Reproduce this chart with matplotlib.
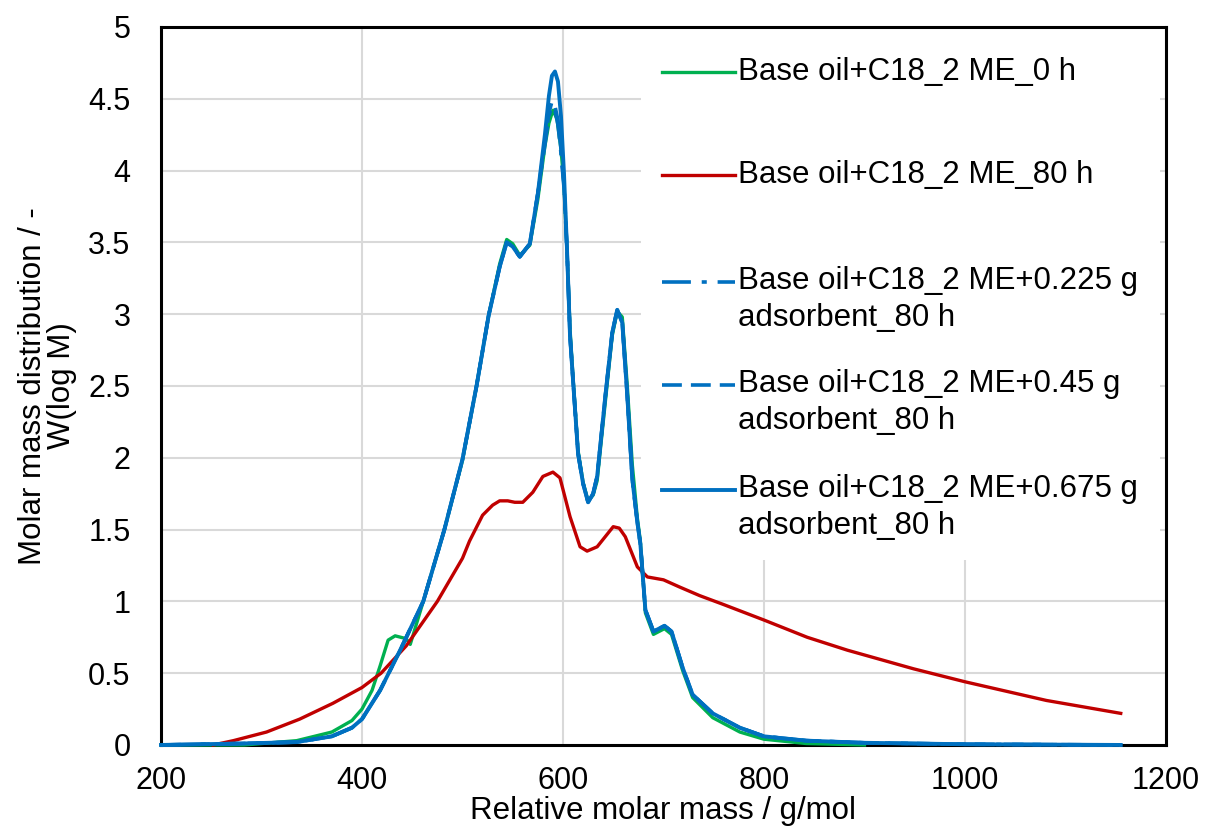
import numpy as np
import matplotlib
matplotlib.use("Agg")
import matplotlib.pyplot as plt
from matplotlib.lines import Line2D
from matplotlib.patches import Rectangle
from matplotlib.ticker import FuncFormatter

plt.rcParams['font.family'] = ['Liberation Sans', 'DejaVu Sans']

# ---- data ----
labels = [
    "Base oil+C18_2 ME_0 h",
    "Base oil+C18_2 ME_80 h",
    "Base oil+C18_2 ME+0.225 g\nadsorbent_80 h",
    "Base oil+C18_2 ME+0.45 g\nadsorbent_80 h",
    "Base oil+C18_2 ME+0.675 g\nadsorbent_80 h",
]

green_x = [200, 283, 335, 370, 390, 400, 410, 418, 426, 433, 444, 448, 461, 482, 500,
           514, 526, 537, 544, 550, 557, 567, 575, 582, 586, 590, 594, 598, 601,
           604, 607, 610, 615, 620, 625, 630, 634, 642, 649, 654, 659, 664, 669,
           674, 677, 682, 690, 701, 708, 719, 729, 749, 776, 800, 842, 900]
green_y = [0.0, 0.0, 0.03, 0.09, 0.17, 0.25, 0.38, 0.55, 0.73, 0.76, 0.74, 0.70, 1.0, 1.5, 1.98,
           2.5, 2.99, 3.35, 3.52, 3.49, 3.41, 3.48, 3.80, 4.17, 4.33, 4.42, 4.36, 4.15, 3.9,
           3.45, 2.9, 2.56, 2.05, 1.83, 1.70, 1.74, 1.84, 2.38, 2.85, 3.02, 2.98, 2.5, 1.95,
           1.58, 1.42, 0.92, 0.77, 0.81, 0.77, 0.52, 0.33, 0.19, 0.09, 0.04, 0.01, 0.0]

red_x = [252, 272, 305, 338, 371, 400, 419, 444, 475, 500, 507, 520, 530, 537, 545, 552,
         560, 570, 580, 590, 597, 607, 617, 624, 634, 642, 650, 656, 662, 674, 684, 700,
         716, 736, 759, 800, 843, 883, 949, 1000, 1081, 1155]
red_y = [0.0, 0.03, 0.09, 0.18, 0.29, 0.40, 0.50, 0.69, 1.0, 1.30, 1.42, 1.60, 1.67, 1.70, 1.70,
         1.69, 1.69, 1.76, 1.87, 1.90, 1.86, 1.59, 1.38, 1.35, 1.38, 1.45, 1.52, 1.51, 1.45,
         1.24, 1.17, 1.15, 1.10, 1.04, 0.98, 0.87, 0.75, 0.66, 0.53, 0.44, 0.31, 0.22]

blue_x = [200, 280, 335, 370, 390, 400, 418, 438, 461, 482, 500, 514, 526, 537, 544, 550,
          557, 567, 575, 582, 586, 589, 592, 595, 598, 601, 604, 607, 610, 615, 620,
          625, 630, 634, 642, 649, 654, 659, 664, 669, 674, 677, 682, 690, 701, 708,
          719, 729, 749, 776, 800, 842, 900, 1000, 1155]
blue_675 = [0.0, 0.01, 0.02, 0.06, 0.12, 0.18, 0.38, 0.66, 1.0, 1.5, 1.99, 2.5, 2.99, 3.33, 3.50, 3.47,
            3.40, 3.49, 3.84, 4.25, 4.52, 4.66, 4.69, 4.62, 4.38, 3.98, 3.45, 2.85, 2.54, 2.03, 1.82,
            1.69, 1.75, 1.87, 2.42, 2.87, 3.03, 2.94, 2.43, 1.85, 1.55, 1.40, 0.94, 0.79, 0.83, 0.79,
            0.54, 0.35, 0.22, 0.12, 0.06, 0.03, 0.015, 0.005, 0.0]
blue_45 = [0.0, 0.01, 0.02, 0.06, 0.12, 0.18, 0.38, 0.66, 1.0, 1.5, 1.99, 2.5, 2.99, 3.33, 3.50, 3.47,
           3.40, 3.49, 3.84, 4.20, 4.40, 4.48, 4.45, 4.35, 4.15, 3.90, 3.45, 2.85, 2.54, 2.03, 1.82,
           1.69, 1.75, 1.87, 2.42, 2.87, 3.03, 2.94, 2.43, 1.85, 1.55, 1.40, 0.94, 0.79, 0.83, 0.79,
           0.54, 0.35, 0.22, 0.12, 0.06, 0.03, 0.015, 0.005, 0.0]
blue_225 = [0.0, 0.01, 0.02, 0.06, 0.12, 0.18, 0.38, 0.66, 1.0, 1.5, 1.99, 2.5, 2.99, 3.33, 3.50, 3.47,
            3.40, 3.49, 3.84, 4.18, 4.38, 4.45, 4.42, 4.32, 4.12, 3.88, 3.45, 2.85, 2.54, 2.03, 1.82,
            1.69, 1.75, 1.87, 2.42, 2.87, 3.03, 2.94, 2.43, 1.85, 1.55, 1.40, 0.94, 0.79, 0.83, 0.79,
            0.54, 0.35, 0.22, 0.12, 0.06, 0.03, 0.015, 0.005, 0.0]

x_ticks = [200, 400, 600, 800, 1000, 1200]
y_ticks = [0, 0.5, 1, 1.5, 2, 2.5, 3, 3.5, 4, 4.5, 5]

GREEN = "#00B050"
RED = "#C00000"
BLUE = "#0070C0"
DASHDOT = (0, (8, 3, 1.4, 3))
DASHED = (0, (5.5, 2.5))

styles = [
    dict(color=GREEN, lw=2.4, ls="-"),
    dict(color=RED, lw=2.4, ls="-"),
    dict(color=BLUE, lw=2.6, ls=DASHDOT),
    dict(color=BLUE, lw=2.6, ls=DASHED),
    dict(color=BLUE, lw=2.8, ls="-"),
]
series = [(green_x, green_y), (red_x, red_y), (blue_x, blue_225),
          (blue_x, blue_45), (blue_x, blue_675)]

fig = plt.figure(figsize=(12.06, 8.27), dpi=100)
ax = fig.add_axes([0.1335, 0.0992, 0.8333, 0.8682])

for i, ((xs, ys), st) in enumerate(zip(series, styles)):
    ax.plot(xs, ys, color=st["color"], lw=st["lw"], ls=st["ls"],
            clip_on=False, zorder=3 + i * 0.1, solid_joinstyle="round")

ax.set_xlim(200, 1200)
ax.set_ylim(0, 5)
ax.set_xticks(x_ticks)
ax.set_yticks(y_ticks)
ax.yaxis.set_major_formatter(FuncFormatter(lambda v, p: "%g" % v))
ax.tick_params(length=0, labelsize=22)
ax.tick_params(axis="y", pad=22)
ax.tick_params(axis="x", pad=15)
ax.grid(True, color="#d9d9d9", lw=1.5)
ax.set_axisbelow(True)
for sp in ax.spines.values():
    sp.set_linewidth(2.2)
    sp.set_color("black")
    sp.set_zorder(2.5)

ax.set_xlabel("Relative molar mass / g/mol", fontsize=22.5, labelpad=0)
ax.set_ylabel("Molar mass distribution / -\nW(log M)", fontsize=22.5,
              linespacing=0.95, labelpad=8)

# legend drawn by hand so the handle sits on the first text line
ax.add_patch(Rectangle((0.4776, 0.2577), 0.5164, 0.7423, transform=ax.transAxes,
                       facecolor="white", edgecolor="none", zorder=1))
handle_y = [0.937, 0.794, 0.645, 0.501, 0.355]
text_y = [0.937, 0.794, 0.6198, 0.477, 0.3308]
for lab, st, hy, ty in zip(labels, styles, handle_y, text_y):
    ax.add_line(Line2D([0.4985, 0.5711], [hy, hy], transform=ax.transAxes,
                       color=st["color"], lw=st["lw"], ls=st["ls"], zorder=6))
    ax.text(0.5745, ty, lab, transform=ax.transAxes, fontsize=22.5,
            va="center", ha="left", linespacing=1.3, zorder=6)

fig.savefig("out.png", dpi=100)
